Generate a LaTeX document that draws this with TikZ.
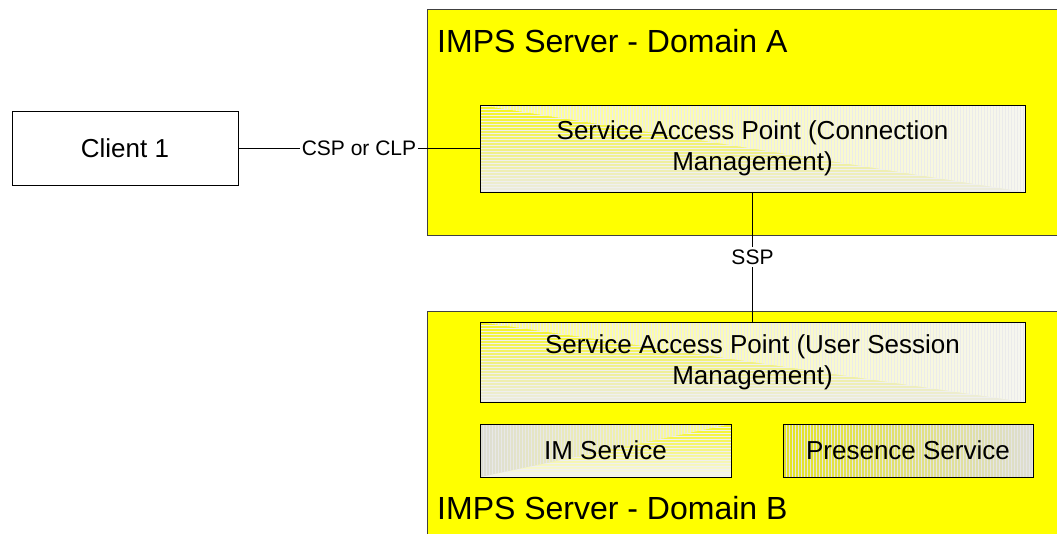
\documentclass[tikz,border=0pt]{standalone}
\usepackage{fontspec}
\setmainfont{Liberation Sans}
\usetikzlibrary{patterns}
\definecolor{domyellow}{RGB}{255,255,0}
\definecolor{yA}{RGB}{245,245,30}
\definecolor{yB}{RGB}{255,255,150}
\definecolor{gA}{RGB}{236,236,228}
\definecolor{yC}{RGB}{255,255,140}
\definecolor{gB}{RGB}{246,246,240}
\definecolor{gC}{RGB}{222,222,212}
\definecolor{olv}{RGB}{228,228,30}
\begin{document}
\begin{tikzpicture}[x=1pt,y=-1pt,
  dom/.style={draw=black!75, line width=1pt, fill=domyellow, rectangle, inner sep=0pt, anchor=north west},
  box/.style={draw=black, line width=0.9pt, rectangle, inner sep=0pt, align=center,
    font=\fontsize{26}{31}\selectfont},
  sapshade/.style={path picture={
    \shade[top color=yA, middle color=yB, bottom color=gA]
      (path picture bounding box.north west) rectangle (path picture bounding box.south east);
    \fill[pattern=horizontal lines, pattern color=black!6]
      (path picture bounding box.north west) rectangle (path picture bounding box.south east);
    \shade[left color=yC, right color=gB]
      (path picture bounding box.north west) -- (path picture bounding box.north east)
      -- (path picture bounding box.south east) -- cycle;
    \fill[pattern=vertical lines, pattern color=black!8]
      (path picture bounding box.north west) -- (path picture bounding box.north east)
      -- (path picture bounding box.south east) -- cycle;
  }},
  imshade/.style={path picture={
    \shade[top color=yA, middle color=yB, bottom color=gB]
      (path picture bounding box.north west) rectangle (path picture bounding box.south east);
    \fill[pattern=horizontal lines, pattern color=black!6]
      (path picture bounding box.north west) rectangle (path picture bounding box.south east);
    \shade[left color=gC, right color=yC]
      (path picture bounding box.north west) -- (path picture bounding box.north east)
      -- (path picture bounding box.south west) -- cycle;
    \fill[pattern=vertical lines, pattern color=black!9]
      (path picture bounding box.north west) -- (path picture bounding box.north east)
      -- (path picture bounding box.south west) -- cycle;
  }},
  presshade/.style={path picture={
    \shade[left color=olv, right color=gC]
      (path picture bounding box.north west) rectangle (path picture bounding box.south east);
    \fill[pattern=vertical lines, pattern color=black!10]
      (path picture bounding box.north west) rectangle (path picture bounding box.south east);
  }},
  conn/.style={draw=black, line width=1.3pt},
  lbl/.style={fill=white, inner sep=2pt, font=\fontsize{21}{24}\selectfont},
  title/.style={anchor=west, inner sep=0pt, font=\fontsize{32}{36}\selectfont}
]
\clip (0,0) rectangle (1057,533);
\fill[white] (0,0) rectangle (1057,533);

\node[dom, minimum width=640pt, minimum height=226pt] (doma) at (427,9) {};
\node[dom, minimum width=640pt, minimum height=240pt] (domb) at (427,311) {};
\node[title] (titlea) at (437,41) {IMPS Server - Domain A};
\node[title] (titleb) at (437,508) {IMPS Server - Domain B};

\node[box, minimum width=226pt, minimum height=74pt, fill=white] (client) at (125,148.5) {Client 1};
\node[box, sapshade, minimum width=545pt, minimum height=87pt] (sapa) at (752.5,148.5)
  {Service Access Point (Connection\\Management)};
\node[box, sapshade, minimum width=545pt, minimum height=80pt] (sapb) at (752.5,362)
  {Service Access Point (User Session\\Management)};
\node[box, imshade, minimum width=251pt, minimum height=53pt] (im) at (605.5,450.5) {IM Service};
\node[box, presshade, minimum width=250pt, minimum height=53pt] (pres) at (908,450.5) {Presence Service};

\draw[conn] (client) -- node[lbl] {CSP or CLP} (sapa);
\draw[conn] (sapa) -- node[lbl, inner sep=3pt] {SSP} (sapb);
\end{tikzpicture}
\end{document}
